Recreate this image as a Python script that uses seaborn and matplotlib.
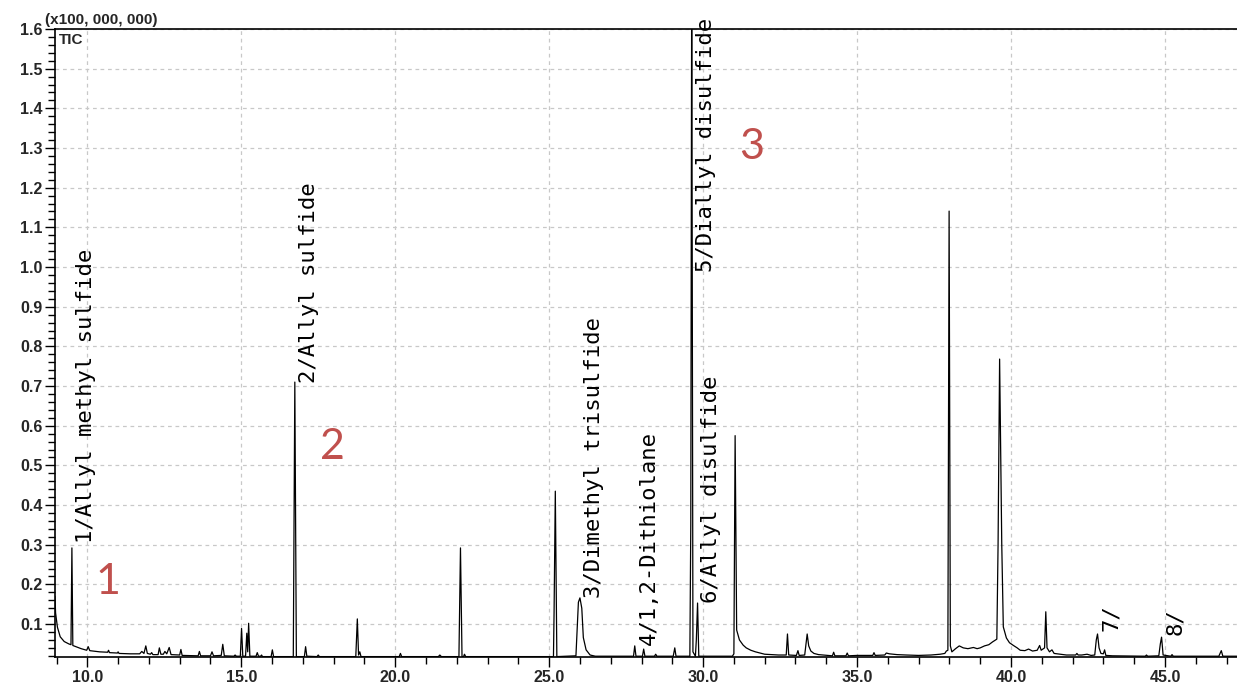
import numpy as np
import pandas as pd
import matplotlib
matplotlib.use("Agg")
import matplotlib.pyplot as plt
import seaborn as sns
from matplotlib.ticker import MultipleLocator, FormatStrFormatter

# Total ion chromatogram, retention time (min) vs. intensity (x1e8 counts).
# Each trace segment lists the vertices of the recorded signal.
early_trace = [
    (8.95, 0.170), (8.97, 0.128), (9.03, 0.092), (9.12, 0.068), (9.25, 0.056),
    (9.40, 0.050), (9.47, 0.048), (9.50, 0.292), (9.53, 0.046), (9.60, 0.044),
    (9.80, 0.038), (9.98, 0.034), (10.03, 0.043), (10.08, 0.033), (10.40, 0.030),
    (10.66, 0.029), (10.69, 0.034), (10.72, 0.028), (10.98, 0.027), (11.00, 0.030),
    (11.03, 0.026), (11.40, 0.025), (11.70, 0.025), (11.77, 0.031), (11.84, 0.026),
    (11.90, 0.045), (11.95, 0.026), (12.05, 0.024), (12.09, 0.028), (12.13, 0.023),
    (12.30, 0.023), (12.34, 0.040), (12.39, 0.024), (12.47, 0.024), (12.52, 0.031),
    (12.58, 0.025), (12.66, 0.041), (12.72, 0.023), (13.00, 0.022), (13.04, 0.036),
    (13.08, 0.021), (13.60, 0.020), (13.64, 0.031), (13.68, 0.020), (14.00, 0.020),
    (14.05, 0.030), (14.10, 0.020), (14.35, 0.021), (14.40, 0.049), (14.45, 0.020),
    (14.76, 0.019), (14.80, 0.022), (14.84, 0.019), (14.97, 0.019), (15.01, 0.089),
    (15.05, 0.019), (15.14, 0.019), (15.18, 0.077), (15.21, 0.030), (15.24, 0.102),
    (15.28, 0.019), (15.48, 0.019), (15.52, 0.028), (15.56, 0.019), (15.63, 0.019),
    (15.66, 0.022), (15.69, 0.018), (15.97, 0.018), (16.01, 0.035), (16.05, 0.018),
    (16.69, 0.018), (16.74, 0.710), (16.79, 0.018), (17.05, 0.018), (17.09, 0.043),
    (17.13, 0.019), (17.46, 0.018), (17.50, 0.022), (17.54, 0.018),
]

mid_trace = [
    (18.72, 0.018), (18.77, 0.113), (18.81, 0.022), (18.85, 0.030), (18.89, 0.018),
    (20.13, 0.018), (20.17, 0.026), (20.21, 0.018), (21.40, 0.018), (21.45, 0.022),
    (21.50, 0.018), (22.07, 0.018), (22.12, 0.292), (22.17, 0.018), (22.22, 0.018),
    (22.25, 0.024), (22.29, 0.018), (25.14, 0.018), (25.16, 0.130), (25.20, 0.435),
    (25.25, 0.018), (25.87, 0.020), (25.95, 0.155), (26.00, 0.166), (26.06, 0.140),
    (26.11, 0.066), (26.20, 0.035), (26.33, 0.022), (26.50, 0.019), (27.74, 0.019),
    (27.78, 0.045), (27.82, 0.019), (28.03, 0.019), (28.07, 0.037), (28.11, 0.019),
    (28.42, 0.019), (28.46, 0.024), (28.50, 0.019), (29.03, 0.019), (29.08, 0.040),
    (29.12, 0.019), (29.57, 0.019), (29.60, 0.350), (29.63, 1.750), (29.67, 0.030),
    (29.75, 0.019), (29.78, 0.060), (29.82, 0.153), (29.86, 0.019), (30.95, 0.019),
    (31.00, 0.025), (31.04, 0.575), (31.09, 0.085), (31.18, 0.060), (31.30, 0.047),
    (31.40, 0.040), (31.55, 0.034), (31.70, 0.030), (31.85, 0.027), (32.00, 0.024),
    (32.20, 0.023), (32.45, 0.022), (32.70, 0.022), (32.74, 0.075), (32.78, 0.022),
    (33.03, 0.021), (33.08, 0.033), (33.12, 0.021), (33.30, 0.022), (33.38, 0.075),
    (33.43, 0.045), (33.50, 0.032), (33.60, 0.026), (33.75, 0.023),
]

late_trace = [
    (34.20, 0.020), (34.24, 0.029), (34.28, 0.020), (34.64, 0.020), (34.68, 0.027),
    (34.72, 0.020), (35.00, 0.021), (35.51, 0.021), (35.55, 0.028), (35.59, 0.021),
    (35.90, 0.022), (35.95, 0.027), (36.05, 0.025), (36.30, 0.023), (36.60, 0.022),
    (37.00, 0.021), (37.40, 0.022), (37.70, 0.024), (37.85, 0.026), (37.90, 0.032),
    (37.95, 0.034), (37.99, 1.141), (38.03, 0.045), (38.08, 0.030), (38.20, 0.038),
    (38.32, 0.045), (38.45, 0.040), (38.60, 0.038), (38.78, 0.041), (38.90, 0.038),
    (39.00, 0.040), (39.14, 0.045), (39.28, 0.048), (39.40, 0.055), (39.54, 0.062),
    (39.58, 0.300), (39.63, 0.768), (39.70, 0.300), (39.75, 0.093), (39.85, 0.065),
    (39.95, 0.053), (40.08, 0.046), (40.20, 0.040), (40.30, 0.034), (40.45, 0.033),
    (40.57, 0.037), (40.70, 0.032), (40.85, 0.034), (40.93, 0.046), (40.98, 0.034),
    (41.09, 0.040), (41.13, 0.131), (41.17, 0.040), (41.25, 0.030), (41.33, 0.035),
    (41.40, 0.026), (41.60, 0.024), (41.80, 0.022), (42.10, 0.022), (42.14, 0.026),
    (42.18, 0.022), (42.30, 0.022), (42.47, 0.024), (42.60, 0.021), (42.72, 0.022),
    (42.77, 0.060), (42.81, 0.075), (42.86, 0.040), (42.92, 0.026), (43.00, 0.025),
    (43.04, 0.035), (43.08, 0.021), (43.30, 0.020), (44.36, 0.019), (44.40, 0.022),
    (44.44, 0.019), (44.80, 0.020), (44.85, 0.050), (44.89, 0.067), (44.94, 0.022),
    (45.19, 0.019), (45.23, 0.023), (45.27, 0.019), (46.75, 0.019), (46.80, 0.028),
    (46.83, 0.033), (46.88, 0.019), (47.34, 0.019),
]

# Identified compounds: apex retention time and height of the label foot
peak_names = [
    "1/Allyl methyl sulfide", "2/Allyl sulfide", "3/Dimethyl trisulfide",
    "4/1,2-Dithiolane", "5/Diallyl disulfide", "6/Allyl disulfide", "7/", "8/",
]
peak_rt = [9.50, 16.74, 26.00, 27.78, 29.63, 29.82, 42.81, 44.89]
label_base = [0.305, 0.708, 0.166, 0.047, 0.987, 0.153, 0.083, 0.072]

# Region markers
region_marks = ["1", "2", "3"]
region_rt = [10.67, 17.95, 31.59]
region_level = [0.206, 0.546, 1.302]

trace = pd.DataFrame(early_trace + mid_trace + late_trace, columns=["minutes", "tic"])

sns.set_style("white")
plt.rcParams["font.family"] = ["Liberation Sans", "DejaVu Sans"]
plt.rcParams["font.weight"] = "bold"

fig = plt.figure(figsize=(12.37, 6.86), dpi=100)
ax = fig.add_axes([55 / 1237, (686 - 657) / 686, (1237 - 55) / 1237, (657 - 29) / 686])

sns.lineplot(data=trace, x="minutes", y="tic", estimator=None, sort=False,
             color="black", linewidth=0.9, ax=ax, zorder=3)

ax.set_xlim(8.951, 47.34)
ax.set_ylim(0.017, 1.6)
ax.set_xlabel("")
ax.set_ylabel("")

ax.xaxis.set_major_locator(MultipleLocator(5))
ax.xaxis.set_minor_locator(MultipleLocator(1))
ax.yaxis.set_major_locator(MultipleLocator(0.1))
ax.yaxis.set_minor_locator(MultipleLocator(0.02))
ax.xaxis.set_major_formatter(FormatStrFormatter("%.1f"))
ax.yaxis.set_major_formatter(FormatStrFormatter("%.1f"))

ax.grid(which="major", color="#c8c8c8", linestyle=(0, (3, 3)), linewidth=0.9)
ax.tick_params(which="major", direction="out", length=7, width=1.0,
               labelsize=11.5, pad=2, color="black", bottom=True, left=True)
ax.tick_params(which="minor", direction="out", length=5, width=1.0,
               color="black", bottom=True, left=True)

for side in ["left", "bottom", "top"]:
    ax.spines[side].set_visible(True)
    ax.spines[side].set_color("black")
    ax.spines[side].set_linewidth(1.2)
ax.spines["right"].set_visible(False)

fig.text(45 / 1237, 1 - 20 / 686, "(x100, 000, 000)", ha="left", va="center",
         fontsize=11, fontweight="bold")
ax.text(0.003, 0.993, "TIC", transform=ax.transAxes, ha="left", va="top",
        fontsize=11, fontweight="bold")

for name, rt, base in zip(peak_names, peak_rt, label_base):
    ax.annotate(name, xy=(rt, base), xytext=(10, 0), textcoords="offset points",
                rotation=90, ha="center", va="bottom", fontsize=16,
                fontweight="normal", family="DejaVu Sans Mono", color="black",
                annotation_clip=False, zorder=4)

for mark, rt, lvl in zip(region_marks, region_rt, region_level):
    ax.text(rt, lvl, mark, ha="center", va="center", fontsize=31,
            fontweight="normal", family="Lato", color="#C0504D", zorder=4)

fig.savefig("out.png", dpi=100)
